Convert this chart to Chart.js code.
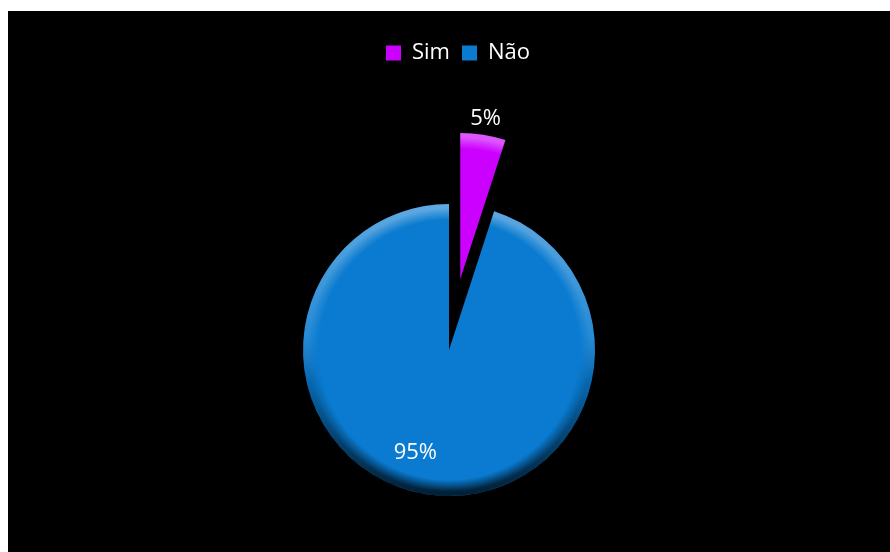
<!DOCTYPE html>
<html>
<head>
<meta charset="utf-8">
<script src="https://cdn.jsdelivr.net/npm/chart.js@4"></script>
<style>
  html, body { margin: 0; background: #fff; }
  #quadro { position: absolute; left: 8px; top: 11px; width: 882px; height: 541px; background: #000; }
</style>
</head>
<body>
<div id="quadro"><canvas id="grafico" width="882" height="541"></canvas></div>
<script>
// dados da pizza
const categorias = ['Sim', 'Não'];
const percentuais = [5, 95];
const cores = ['#CC00FF', '#0A7BD0'];

// aparencia
const explosao = [72, 0];   // quanto cada fatia sai do centro (px)
const raio = 146;
const padTopo = 19;
const topoPizza = 137;      // y onde comeca a area da pizza
const desvioLegenda = 18;   // empurra a legenda um pouco pra direita
const giroRotuloInterno = 0.16; // o excel joga o rotulo grande um pouco pro lado
const fonte = '"Open Sans", sans-serif';

// tira a fatia do centro, igual o "explodir" do excel
const pluginExplodir = {
  id: 'explodir',
  afterDatasetUpdate(chart, args) {
    args.meta.data.forEach((arco, i) => {
      const d = explosao[i] || 0;
      if (!d) return;
      const meio = (arco.startAngle + arco.endAngle) / 2;
      arco.x += Math.cos(meio) * d;
      arco.y += Math.sin(meio) * d;
    });
  }
};

// legenda mais alta pra empurrar a pizza pra baixo
const pluginLegenda = {
  id: 'espacoLegenda',
  beforeInit(chart) {
    const fitOriginal = chart.legend.fit;
    chart.legend.fit = function () {
      fitOriginal.call(this);
      this.height = topoPizza - padTopo;
      if (this.lineWidths) this.lineWidths[0] -= desvioLegenda;
    };
  }
};

// chanfro: borda clara em cima e escura embaixo
function desenhaChanfro(ctx, arco) {
  const r = arco.outerRadius;
  const tam = Math.ceil(r * 2 + 4);
  const off = document.createElement('canvas');
  off.width = tam;
  off.height = tam;
  const o = off.getContext('2d');
  const c = tam / 2;
  const lin = o.createLinearGradient(0, c - r, 0, c + r);
  lin.addColorStop(0, 'rgba(255,255,255,0.35)');
  lin.addColorStop(0.45, 'rgba(255,255,255,0.12)');
  lin.addColorStop(0.6, 'rgba(0,0,0,0.15)');
  lin.addColorStop(1, 'rgba(0,0,0,0.75)');
  o.fillStyle = lin;
  o.fillRect(0, 0, tam, tam);
  o.globalCompositeOperation = 'destination-in';
  const rad = o.createRadialGradient(c, c, 0, c, c, r);
  rad.addColorStop(0, 'rgba(0,0,0,0)');
  rad.addColorStop(0.89, 'rgba(0,0,0,0)');
  rad.addColorStop(0.97, 'rgba(0,0,0,1)');
  rad.addColorStop(1, 'rgba(0,0,0,1)');
  o.fillStyle = rad;
  o.fillRect(0, 0, tam, tam);

  ctx.save();
  ctx.beginPath();
  ctx.moveTo(arco.x, arco.y);
  ctx.arc(arco.x, arco.y, r, arco.startAngle, arco.endAngle);
  ctx.closePath();
  ctx.clip();
  ctx.drawImage(off, arco.x - c, arco.y - c);
  ctx.restore();
}

// acabamento e rotulos de porcentagem
const pluginAcabamento = {
  id: 'acabamento',
  afterDatasetsDraw(chart) {
    const ctx = chart.ctx;
    const arcos = chart.getDatasetMeta(0).data;
    arcos.forEach((arco) => desenhaChanfro(ctx, arco));

    ctx.save();
    ctx.font = '22px ' + fonte;
    ctx.fillStyle = '#fff';
    ctx.textAlign = 'center';
    ctx.textBaseline = 'middle';
    arcos.forEach((arco, i) => {
      let meio = (arco.startAngle + arco.endAngle) / 2;
      let dist;
      if (explosao[i]) {
        dist = arco.outerRadius + 16;
      } else {
        dist = arco.outerRadius * 0.74;
        meio += giroRotuloInterno;
      }
      ctx.fillText(percentuais[i] + '%', arco.x + Math.cos(meio) * dist, arco.y + Math.sin(meio) * dist);
    });
    ctx.restore();
  }
};

new Chart(document.getElementById('grafico'), {
  type: 'pie',
  data: {
    labels: categorias,
    datasets: [{ data: percentuais, backgroundColor: cores, borderWidth: 0 }]
  },
  options: {
    responsive: false,
    animation: false,
    events: [],
    radius: raio,
    layout: { padding: { top: padTopo, bottom: 0, left: 0, right: 0 } },
    plugins: {
      legend: {
        position: 'top',
        labels: {
          color: '#fff',
          boxWidth: 15,
          boxHeight: 15,
          padding: 12,
          font: { family: fonte, size: 22 }
        }
      },
      tooltip: { enabled: false }
    }
  },
  plugins: [pluginExplodir, pluginLegenda, pluginAcabamento]
});
</script>
</body>
</html>
